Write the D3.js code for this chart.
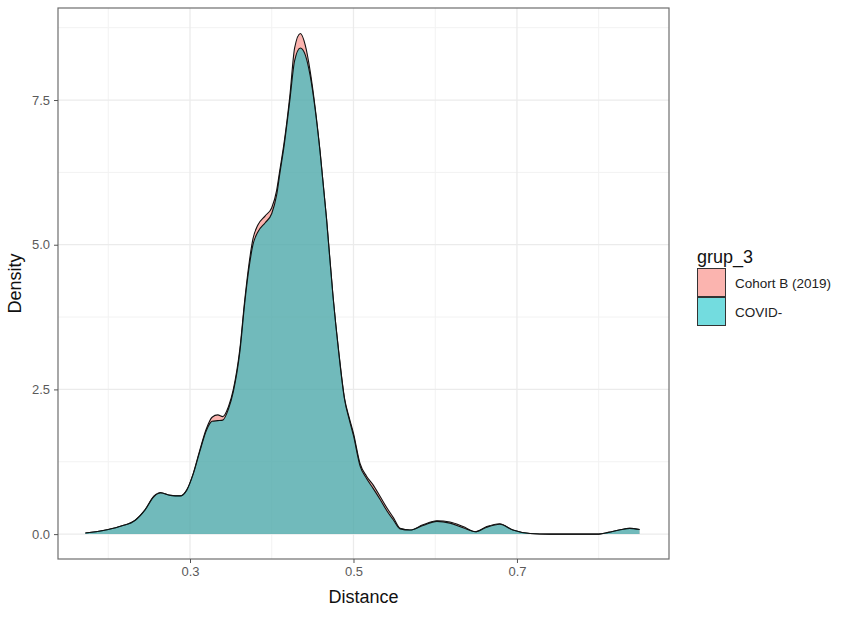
<!DOCTYPE html>
<html>
<head>
<meta charset="utf-8">
<style>
    body { margin: 0; background: #fff; }
    svg text { font-family: "Liberation Sans", Arial, sans-serif; }
</style>
</head>
<body>
<svg width="851" height="618"></svg>
<script src="https://d3js.org/d3.v7.min.js"></script>
<script>

    // density estimates
    var distance = [0.172, 0.185, 0.200, 0.216, 0.233, 0.245, 0.256, 0.264, 0.276, 0.288,
                    0.296, 0.304, 0.312, 0.320, 0.327, 0.334, 0.340, 0.347, 0.353, 0.361,
                    0.367, 0.372, 0.377, 0.383, 0.392, 0.400, 0.406, 0.410, 0.415, 0.422,
                    0.428, 0.435, 0.441, 0.447, 0.453, 0.459, 0.467, 0.475, 0.482, 0.489,
                    0.495, 0.500, 0.508, 0.516, 0.524, 0.533, 0.541, 0.549, 0.557, 0.569,
                    0.585, 0.602, 0.618, 0.634, 0.649, 0.663, 0.679, 0.695, 0.716, 0.740,
                    0.800, 0.812, 0.825, 0.838, 0.850];

    var cohortB = [0.02, 0.04, 0.08, 0.14, 0.24, 0.42, 0.66, 0.72, 0.67, 0.66,
                   0.76, 1.05, 1.45, 1.82, 2.02, 2.06, 2.03, 2.20, 2.50, 3.20,
                   4.05, 4.65, 5.10, 5.34, 5.50, 5.64, 5.94, 6.30, 6.75, 7.55,
                   8.40, 8.65, 8.45, 8.00, 7.38, 6.63, 5.45, 4.10, 3.15, 2.35,
                   2.00, 1.74, 1.22, 1.00, 0.85, 0.64, 0.45, 0.28, 0.10, 0.07,
                   0.16, 0.23, 0.21, 0.13, 0.04, 0.13, 0.18, 0.07, 0.01, 0.00,
                   0.00, 0.03, 0.07, 0.10, 0.08];

    var covidNeg = [0.02, 0.04, 0.08, 0.14, 0.24, 0.42, 0.65, 0.71, 0.67, 0.66,
                    0.76, 1.04, 1.43, 1.79, 1.95, 1.96, 1.97, 2.16, 2.46, 3.15,
                    4.00, 4.58, 5.00, 5.22, 5.38, 5.54, 5.86, 6.24, 6.70, 7.48,
                    8.18, 8.40, 8.28, 7.92, 7.35, 6.62, 5.45, 4.10, 3.13, 2.33,
                    1.97, 1.70, 1.18, 0.96, 0.79, 0.59, 0.40, 0.24, 0.09, 0.07,
                    0.15, 0.22, 0.19, 0.11, 0.04, 0.12, 0.17, 0.07, 0.01, 0.00,
                    0.00, 0.03, 0.07, 0.10, 0.08];

    var groups = ["Cohort B (2019)", "COVID-"];
    var groupColors = ["#F8766D", "#00BFC4"];

    var xTicks = [0.3, 0.5, 0.7];
    var xMinor = [0.2, 0.4, 0.6, 0.8];
    var yTicks = [0, 2.5, 5, 7.5];
    var yMinor = [1.25, 3.75, 6.25, 8.75];

    var svg = d3.select("svg");

    var panel = {left: 58, right: 669, top: 8, bottom: 559};

    var x = d3.scaleLinear()
        .domain([0.1385, 0.886])
        .range([panel.left, panel.right]);

    var y = d3.scaleLinear()
        .domain([-0.43, 9.09])
        .range([panel.bottom, panel.top]);

    // grid
    var grid = svg.append("g");
    grid.selectAll(".xminor").data(xMinor).enter().append("line")
        .attr("x1", function(d) { return x(d); }).attr("x2", function(d) { return x(d); })
        .attr("y1", panel.top).attr("y2", panel.bottom)
        .attr("stroke", "#f2f2f2").attr("stroke-width", 1);
    grid.selectAll(".yminor").data(yMinor).enter().append("line")
        .attr("y1", function(d) { return y(d); }).attr("y2", function(d) { return y(d); })
        .attr("x1", panel.left).attr("x2", panel.right)
        .attr("stroke", "#f2f2f2").attr("stroke-width", 1);
    grid.selectAll(".xmajor").data(xTicks).enter().append("line")
        .attr("x1", function(d) { return x(d); }).attr("x2", function(d) { return x(d); })
        .attr("y1", panel.top).attr("y2", panel.bottom)
        .attr("stroke", "#ebebeb").attr("stroke-width", 1.3);
    grid.selectAll(".ymajor").data(yTicks).enter().append("line")
        .attr("y1", function(d) { return y(d); }).attr("y2", function(d) { return y(d); })
        .attr("x1", panel.left).attr("x2", panel.right)
        .attr("stroke", "#ebebeb").attr("stroke-width", 1.3);

    // densities
    var series = [cohortB, covidNeg];

    var area = d3.area()
        .curve(d3.curveMonotoneX)
        .x(function(d, i) { return x(distance[i]); })
        .y0(y(0))
        .y1(function(d) { return y(d); });

    var line = d3.line()
        .curve(d3.curveMonotoneX)
        .x(function(d, i) { return x(distance[i]); })
        .y(function(d) { return y(d); });

    var dens = svg.append("g");
    series.forEach(function(s, k) {
        dens.append("path")
            .datum(s)
            .attr("d", area)
            .attr("fill", groupColors[k])
            .attr("fill-opacity", 0.55);
        dens.append("path")
            .datum(s)
            .attr("d", line)
            .attr("fill", "none")
            .attr("stroke", "#111")
            .attr("stroke-width", 1.1);
    });

    // panel border
    svg.append("rect")
        .attr("x", panel.left).attr("y", panel.top)
        .attr("width", panel.right - panel.left)
        .attr("height", panel.bottom - panel.top)
        .attr("fill", "none")
        .attr("stroke", "#6e6e6e")
        .attr("stroke-width", 1.2);

    // axes
    var xAxis = svg.append("g")
        .attr("transform", "translate(0," + panel.bottom + ")")
        .call(d3.axisBottom(x).tickValues(xTicks).tickSize(4).tickPadding(4)
              .tickFormat(d3.format(".1f")));
    var yAxis = svg.append("g")
        .attr("transform", "translate(" + panel.left + ",0)")
        .call(d3.axisLeft(y).tickValues(yTicks).tickSize(4).tickPadding(4)
              .tickFormat(d3.format(".1f")));

    [xAxis, yAxis].forEach(function(a) {
        a.select(".domain").remove();
        a.selectAll(".tick line").attr("stroke", "#555");
        a.selectAll(".tick text")
            .attr("fill", "#5a5a5a")
            .style("font-size", "13px")
            .style("font-family", "Liberation Sans, Arial, sans-serif");
    });

    svg.append("text")
        .attr("x", (panel.left + panel.right) / 2)
        .attr("y", 603)
        .attr("text-anchor", "middle")
        .style("font-size", "18px")
        .attr("fill", "#111")
        .text("Distance");

    svg.append("text")
        .attr("transform", "translate(21," + (panel.top + panel.bottom) / 2 + ") rotate(-90)")
        .attr("text-anchor", "middle")
        .style("font-size", "18px")
        .attr("fill", "#111")
        .text("Density");

    // legend
    var legend = svg.append("g").attr("transform", "translate(697,0)");
    legend.append("text")
        .attr("x", 0).attr("y", 263)
        .style("font-size", "18px")
        .attr("fill", "#111")
        .text("grup_3");

    var keys = legend.selectAll(".key")
        .data(groups)
        .enter().append("g")
        .attr("transform", function(d, i) { return "translate(0," + (268 + i * 29) + ")"; });

    keys.append("rect")
        .attr("x", 0.5).attr("y", 0.5)
        .attr("width", 28).attr("height", 28)
        .attr("fill", "#fff");
    keys.append("rect")
        .attr("x", 0.5).attr("y", 0.5)
        .attr("width", 28).attr("height", 28)
        .attr("fill", function(d, i) { return groupColors[i]; })
        .attr("fill-opacity", 0.55)
        .attr("stroke", "#333")
        .attr("stroke-width", 1);

    keys.append("text")
        .attr("x", 38).attr("y", 15)
        .attr("dy", "0.35em")
        .style("font-size", "13.5px")
        .attr("fill", "#222")
        .text(function(d) { return d; });

</script>
</body>
</html>
